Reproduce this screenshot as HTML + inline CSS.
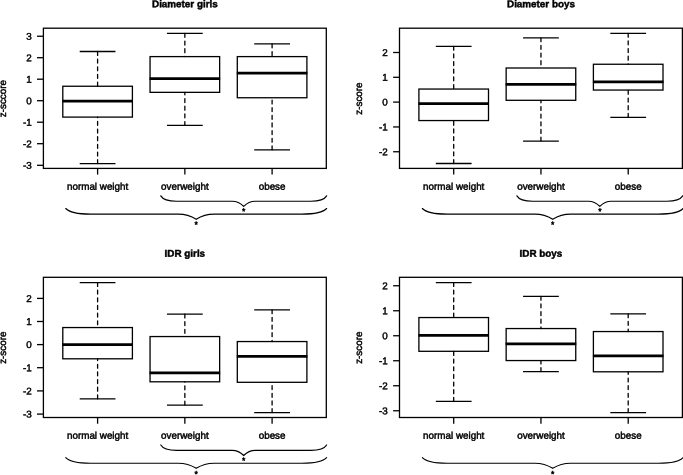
<!DOCTYPE html>
<html lang="en">
<head>
<meta charset="utf-8">
<title>Boxplots</title>
<style>
html,body{margin:0;padding:0;background:#fff;}
body{width:683px;height:475px;overflow:hidden;}
svg{display:block;filter:grayscale(1);}
text{font-family:"Liberation Sans",sans-serif;font-size:9.85px;fill:#000;stroke:#000;stroke-width:0.45px;text-rendering:geometricPrecision;}
.t{font-weight:bold;}
.a{font-size:8.6px;}
.l{stroke:#000;stroke-width:1.3;fill:none;}
.b{stroke:#000;stroke-width:1.15;fill:none;stroke-linecap:round;}
.m{stroke:#000;stroke-width:2.7;fill:none;stroke-linecap:butt;}
.d{stroke:#000;stroke-width:1.3;fill:none;stroke-dasharray:3.9 3.75;stroke-linecap:round;}
</style>
</head>
<body>
<svg width="683" height="475" viewBox="0 0 683 475">
<rect x="0" y="0" width="683" height="475" fill="#fff"/>
<g>
<text class="t" transform="translate(184.85 7.3) rotate(0.03)" text-anchor="middle">Diameter girls</text>
<text transform="translate(5.8 98.6) rotate(-90)" text-anchor="middle">z-sccore</text>
<rect class="l" x="43.4" y="28.2" width="282.9" height="140.2"/>
<line class="l" x1="37" y1="36.25" x2="43.4" y2="36.25"/><text transform="translate(31.7 39.75) rotate(0.03)" text-anchor="end">3</text>
<line class="l" x1="37" y1="57.7" x2="43.4" y2="57.7"/><text transform="translate(31.7 61.2) rotate(0.03)" text-anchor="end">2</text>
<line class="l" x1="37" y1="79.2" x2="43.4" y2="79.2"/><text transform="translate(31.7 82.7) rotate(0.03)" text-anchor="end">1</text>
<line class="l" x1="37" y1="100.7" x2="43.4" y2="100.7"/><text transform="translate(31.7 104.2) rotate(0.03)" text-anchor="end">0</text>
<line class="l" x1="37" y1="122.2" x2="43.4" y2="122.2"/><text transform="translate(31.7 125.7) rotate(0.03)" text-anchor="end">-1</text>
<line class="l" x1="37" y1="143.7" x2="43.4" y2="143.7"/><text transform="translate(31.7 147.2) rotate(0.03)" text-anchor="end">-2</text>
<line class="l" x1="37" y1="165.3" x2="43.4" y2="165.3"/><text transform="translate(31.7 168.8) rotate(0.03)" text-anchor="end">-3</text>
<line class="d" x1="97.6" y1="51.5" x2="97.6" y2="86.25"/><line class="d" x1="97.6" y1="163.6" x2="97.6" y2="117.1"/><line class="l" x1="79.71" y1="51.5" x2="115.49" y2="51.5"/><line class="l" x1="79.71" y1="163.6" x2="115.49" y2="163.6"/><rect class="l" x="62.8" y="86.25" width="69.6" height="30.85"/><line class="m" x1="62.3" y1="101.15" x2="132.9" y2="101.15"/>
<line class="l" x1="97.6" y1="168.4" x2="97.6" y2="174.6"/><text transform="translate(97.6 189.7) rotate(0.03)" text-anchor="middle">normal weight</text>
<line class="d" x1="184.85" y1="33.45" x2="184.85" y2="56.6"/><line class="d" x1="184.85" y1="125.45" x2="184.85" y2="92.35"/><line class="l" x1="166.96" y1="33.45" x2="202.74" y2="33.45"/><line class="l" x1="166.96" y1="125.45" x2="202.74" y2="125.45"/><rect class="l" x="150.05" y="56.6" width="69.6" height="35.75"/><line class="m" x1="149.55" y1="78.6" x2="220.15" y2="78.6"/>
<line class="l" x1="184.85" y1="168.4" x2="184.85" y2="174.6"/><text transform="translate(184.85 189.7) rotate(0.03)" text-anchor="middle">overweight</text>
<line class="d" x1="272.1" y1="43.95" x2="272.1" y2="56.6"/><line class="d" x1="272.1" y1="149.85" x2="272.1" y2="97.75"/><line class="l" x1="254.21" y1="43.95" x2="289.99" y2="43.95"/><line class="l" x1="254.21" y1="149.85" x2="289.99" y2="149.85"/><rect class="l" x="237.3" y="56.6" width="69.6" height="41.15"/><line class="m" x1="236.8" y1="73.1" x2="307.4" y2="73.1"/>
<line class="l" x1="272.1" y1="168.4" x2="272.1" y2="174.6"/><text transform="translate(272.1 189.7) rotate(0.03)" text-anchor="middle">obese</text>
<path class="b" d="M160.8,195.85 C162.79,199.3 167.43,201.2 176.55,201.2 L232.26,201.2 C237.4,201.2 240.88,203.54 243.7,206.4 C246.52,203.54 250,201.2 255.14,201.2 L310.85,201.2 C319.97,201.2 324.61,199.3 326.6,195.85"/><text class="a" transform="translate(243.7 214.3) rotate(0.03)" text-anchor="middle">*</text>
<path class="b" d="M65.8,208.5 C68.93,212.11 76.23,214.1 90.58,214.1 L178.2,214.1 C186.29,214.1 191.77,216.4 196.2,219.2 C200.63,216.4 206.11,214.1 214.2,214.1 L301.82,214.1 C316.17,214.1 323.47,212.11 326.6,208.5"/><text class="a" transform="translate(196.2 227.6) rotate(0.03)" text-anchor="middle">*</text>
</g>
<g>
<text class="t" transform="translate(540.95 7.3) rotate(0.03)" text-anchor="middle">Diameter boys</text>
<text transform="translate(361.9 98.6) rotate(-90)" text-anchor="middle">z-score</text>
<rect class="l" x="399.5" y="28.2" width="282.9" height="140.2"/>
<line class="l" x1="393.1" y1="52.5" x2="399.5" y2="52.5"/><text transform="translate(387.8 56) rotate(0.03)" text-anchor="end">2</text>
<line class="l" x1="393.1" y1="77.3" x2="399.5" y2="77.3"/><text transform="translate(387.8 80.8) rotate(0.03)" text-anchor="end">1</text>
<line class="l" x1="393.1" y1="102.1" x2="399.5" y2="102.1"/><text transform="translate(387.8 105.6) rotate(0.03)" text-anchor="end">0</text>
<line class="l" x1="393.1" y1="126.95" x2="399.5" y2="126.95"/><text transform="translate(387.8 130.45) rotate(0.03)" text-anchor="end">-1</text>
<line class="l" x1="393.1" y1="151.75" x2="399.5" y2="151.75"/><text transform="translate(387.8 155.25) rotate(0.03)" text-anchor="end">-2</text>
<line class="d" x1="453.7" y1="46.3" x2="453.7" y2="89.05"/><line class="d" x1="453.7" y1="163.5" x2="453.7" y2="120.55"/><line class="l" x1="435.81" y1="46.3" x2="471.59" y2="46.3"/><line class="l" x1="435.81" y1="163.5" x2="471.59" y2="163.5"/><rect class="l" x="418.9" y="89.05" width="69.6" height="31.5"/><line class="m" x1="418.4" y1="103.55" x2="489" y2="103.55"/>
<line class="l" x1="453.7" y1="168.4" x2="453.7" y2="174.6"/><text transform="translate(453.7 189.7) rotate(0.03)" text-anchor="middle">normal weight</text>
<line class="d" x1="540.95" y1="37.8" x2="540.95" y2="68"/><line class="d" x1="540.95" y1="141.05" x2="540.95" y2="100.3"/><line class="l" x1="523.06" y1="37.8" x2="558.84" y2="37.8"/><line class="l" x1="523.06" y1="141.05" x2="558.84" y2="141.05"/><rect class="l" x="506.15" y="68" width="69.6" height="32.3"/><line class="m" x1="505.65" y1="84.3" x2="576.25" y2="84.3"/>
<line class="l" x1="540.95" y1="168.4" x2="540.95" y2="174.6"/><text transform="translate(540.95 189.7) rotate(0.03)" text-anchor="middle">overweight</text>
<line class="d" x1="628.2" y1="33.3" x2="628.2" y2="64.25"/><line class="d" x1="628.2" y1="117.3" x2="628.2" y2="90.05"/><line class="l" x1="610.31" y1="33.3" x2="646.09" y2="33.3"/><line class="l" x1="610.31" y1="117.3" x2="646.09" y2="117.3"/><rect class="l" x="593.4" y="64.25" width="69.6" height="25.8"/><line class="m" x1="592.9" y1="81.8" x2="663.5" y2="81.8"/>
<line class="l" x1="628.2" y1="168.4" x2="628.2" y2="174.6"/><text transform="translate(628.2 189.7) rotate(0.03)" text-anchor="middle">obese</text>
<path class="b" d="M516.9,195.85 C518.89,199.3 523.53,201.2 532.65,201.2 L588.36,201.2 C593.5,201.2 596.98,203.54 599.8,206.4 C602.62,203.54 606.1,201.2 611.24,201.2 L666.95,201.2 C676.07,201.2 680.71,199.3 682.7,195.85"/><text class="a" transform="translate(599.8 214.3) rotate(0.03)" text-anchor="middle">*</text>
<path class="b" d="M422.4,208.5 C425.53,212.11 432.83,214.1 447.17,214.1 L534.76,214.1 C542.84,214.1 548.32,216.4 552.75,219.2 C557.18,216.4 562.66,214.1 570.74,214.1 L658.33,214.1 C672.67,214.1 679.97,212.11 683.1,208.5"/><text class="a" transform="translate(552.75 227.6) rotate(0.03)" text-anchor="middle">*</text>
</g>
<g>
<text class="t" transform="translate(184.85 256.65) rotate(0.03)" text-anchor="middle">IDR girls</text>
<text transform="translate(5.8 347.7) rotate(-90)" text-anchor="middle">z-score</text>
<rect class="l" x="43.4" y="277.3" width="282.9" height="140.2"/>
<line class="l" x1="37" y1="298.4" x2="43.4" y2="298.4"/><text transform="translate(31.7 301.9) rotate(0.03)" text-anchor="end">2</text>
<line class="l" x1="37" y1="321.5" x2="43.4" y2="321.5"/><text transform="translate(31.7 325) rotate(0.03)" text-anchor="end">1</text>
<line class="l" x1="37" y1="344.6" x2="43.4" y2="344.6"/><text transform="translate(31.7 348.1) rotate(0.03)" text-anchor="end">0</text>
<line class="l" x1="37" y1="367.7" x2="43.4" y2="367.7"/><text transform="translate(31.7 371.2) rotate(0.03)" text-anchor="end">-1</text>
<line class="l" x1="37" y1="390.9" x2="43.4" y2="390.9"/><text transform="translate(31.7 394.4) rotate(0.03)" text-anchor="end">-2</text>
<line class="l" x1="37" y1="414.1" x2="43.4" y2="414.1"/><text transform="translate(31.7 417.6) rotate(0.03)" text-anchor="end">-3</text>
<line class="d" x1="97.6" y1="282.55" x2="97.6" y2="327.55"/><line class="d" x1="97.6" y1="398.8" x2="97.6" y2="358.8"/><line class="l" x1="79.71" y1="282.55" x2="115.49" y2="282.55"/><line class="l" x1="79.71" y1="398.8" x2="115.49" y2="398.8"/><rect class="l" x="62.8" y="327.55" width="69.6" height="31.25"/><line class="m" x1="62.3" y1="344.55" x2="132.9" y2="344.55"/>
<line class="l" x1="97.6" y1="417.5" x2="97.6" y2="423.7"/><text transform="translate(97.6 438.8) rotate(0.03)" text-anchor="middle">normal weight</text>
<line class="d" x1="184.85" y1="314.05" x2="184.85" y2="336.55"/><line class="d" x1="184.85" y1="405.05" x2="184.85" y2="381.8"/><line class="l" x1="166.96" y1="314.05" x2="202.74" y2="314.05"/><line class="l" x1="166.96" y1="405.05" x2="202.74" y2="405.05"/><rect class="l" x="150.05" y="336.55" width="69.6" height="45.25"/><line class="m" x1="149.55" y1="372.8" x2="220.15" y2="372.8"/>
<line class="l" x1="184.85" y1="417.5" x2="184.85" y2="423.7"/><text transform="translate(184.85 438.8) rotate(0.03)" text-anchor="middle">overweight</text>
<line class="d" x1="272.1" y1="309.8" x2="272.1" y2="341.55"/><line class="d" x1="272.1" y1="412.55" x2="272.1" y2="382.3"/><line class="l" x1="254.21" y1="309.8" x2="289.99" y2="309.8"/><line class="l" x1="254.21" y1="412.55" x2="289.99" y2="412.55"/><rect class="l" x="237.3" y="341.55" width="69.6" height="40.75"/><line class="m" x1="236.8" y1="356.3" x2="307.4" y2="356.3"/>
<line class="l" x1="272.1" y1="417.5" x2="272.1" y2="423.7"/><text transform="translate(272.1 438.8) rotate(0.03)" text-anchor="middle">obese</text>
<path class="b" d="M160.8,444.95 C162.79,448.4 167.43,450.3 176.55,450.3 L232.26,450.3 C237.4,450.3 240.88,452.64 243.7,455.5 C246.52,452.64 250,450.3 255.14,450.3 L310.85,450.3 C319.97,450.3 324.61,448.4 326.6,444.95"/><text class="a" transform="translate(243.7 463.55) rotate(0.03)" text-anchor="middle">*</text>
<path class="b" d="M65.8,457.6 C68.93,461.21 76.23,463.2 90.58,463.2 L178.2,463.2 C186.29,463.2 191.77,465.5 196.2,468.3 C200.63,465.5 206.11,463.2 214.2,463.2 L301.82,463.2 C316.17,463.2 323.47,461.21 326.6,457.6"/><text class="a" transform="translate(196.2 477.1) rotate(0.03)" text-anchor="middle">*</text>
</g>
<g>
<text class="t" transform="translate(540.95 256.65) rotate(0.03)" text-anchor="middle">IDR boys</text>
<text transform="translate(361.9 347.7) rotate(-90)" text-anchor="middle">z-score</text>
<rect class="l" x="399.5" y="277.3" width="282.9" height="140.2"/>
<line class="l" x1="393.1" y1="285.75" x2="399.5" y2="285.75"/><text transform="translate(387.8 289.25) rotate(0.03)" text-anchor="end">2</text>
<line class="l" x1="393.1" y1="310.75" x2="399.5" y2="310.75"/><text transform="translate(387.8 314.25) rotate(0.03)" text-anchor="end">1</text>
<line class="l" x1="393.1" y1="335.75" x2="399.5" y2="335.75"/><text transform="translate(387.8 339.25) rotate(0.03)" text-anchor="end">0</text>
<line class="l" x1="393.1" y1="360.75" x2="399.5" y2="360.75"/><text transform="translate(387.8 364.25) rotate(0.03)" text-anchor="end">-1</text>
<line class="l" x1="393.1" y1="385.75" x2="399.5" y2="385.75"/><text transform="translate(387.8 389.25) rotate(0.03)" text-anchor="end">-2</text>
<line class="l" x1="393.1" y1="410.75" x2="399.5" y2="410.75"/><text transform="translate(387.8 414.25) rotate(0.03)" text-anchor="end">-3</text>
<line class="d" x1="453.7" y1="282.55" x2="453.7" y2="317.55"/><line class="d" x1="453.7" y1="401.3" x2="453.7" y2="351.3"/><line class="l" x1="435.81" y1="282.55" x2="471.59" y2="282.55"/><line class="l" x1="435.81" y1="401.3" x2="471.59" y2="401.3"/><rect class="l" x="418.9" y="317.55" width="69.6" height="33.75"/><line class="m" x1="418.4" y1="335.3" x2="489" y2="335.3"/>
<line class="l" x1="453.7" y1="417.5" x2="453.7" y2="423.7"/><text transform="translate(453.7 438.8) rotate(0.03)" text-anchor="middle">normal weight</text>
<line class="d" x1="540.95" y1="296.3" x2="540.95" y2="328.55"/><line class="d" x1="540.95" y1="371.55" x2="540.95" y2="360.55"/><line class="l" x1="523.06" y1="296.3" x2="558.84" y2="296.3"/><line class="l" x1="523.06" y1="371.55" x2="558.84" y2="371.55"/><rect class="l" x="506.15" y="328.55" width="69.6" height="32"/><line class="m" x1="505.65" y1="343.8" x2="576.25" y2="343.8"/>
<line class="l" x1="540.95" y1="417.5" x2="540.95" y2="423.7"/><text transform="translate(540.95 438.8) rotate(0.03)" text-anchor="middle">overweight</text>
<line class="d" x1="628.2" y1="313.8" x2="628.2" y2="331.55"/><line class="d" x1="628.2" y1="412.55" x2="628.2" y2="371.8"/><line class="l" x1="610.31" y1="313.8" x2="646.09" y2="313.8"/><line class="l" x1="610.31" y1="412.55" x2="646.09" y2="412.55"/><rect class="l" x="593.4" y="331.55" width="69.6" height="40.25"/><line class="m" x1="592.9" y1="355.9" x2="663.5" y2="355.9"/>
<line class="l" x1="628.2" y1="417.5" x2="628.2" y2="423.7"/><text transform="translate(628.2 438.8) rotate(0.03)" text-anchor="middle">obese</text>
<path class="b" d="M422.4,457.6 C425.53,461.21 432.83,463.2 447.17,463.2 L534.76,463.2 C542.84,463.2 548.32,465.5 552.75,468.3 C557.18,465.5 562.66,463.2 570.74,463.2 L658.33,463.2 C672.67,463.2 679.97,461.21 683.1,457.6"/><text class="a" transform="translate(552.75 477.1) rotate(0.03)" text-anchor="middle">*</text>
</g>
</svg>
</body>
</html>
